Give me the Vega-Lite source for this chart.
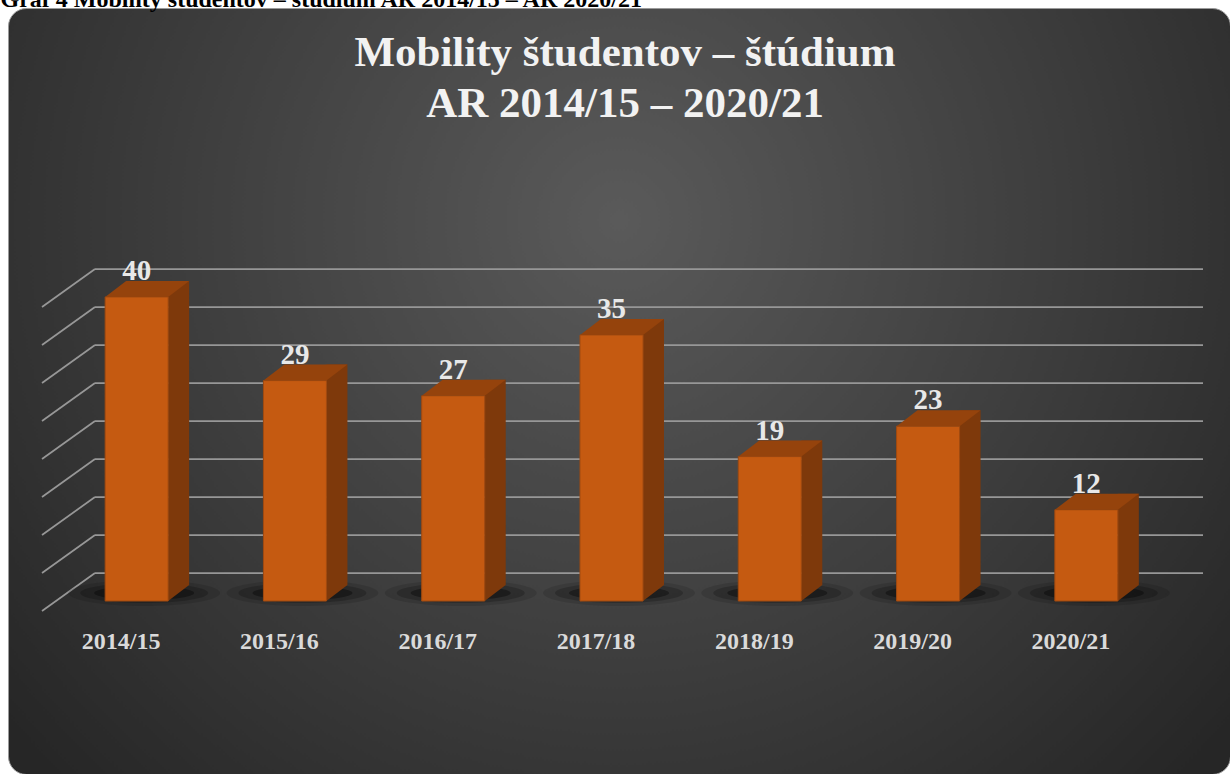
{
  "$schema": "https://vega.github.io/schema/vega-lite/v6.json",
  "width": 1222,
  "height": 766,
  "autosize": {"type": "none"},
  "padding": {"left": 8, "top": 8, "right": 0, "bottom": 0},
  "background": "white",
  "config": {
    "view": {
      "fill": {"gradient": "radial", "x1": 0.5, "y1": 0.36, "r1": 0, "x2": 0.5, "y2": 0.36, "r2": 0.65,
        "stops": [{"offset": 0, "color": "#5a5a5a"}, {"offset": 1, "color": "#262626"}]},
      "stroke": "#9a9a9a",
      "strokeWidth": 1,
      "cornerRadius": 18
    },
    "font": "Liberation Serif"
  },
  "title": {
    "text": ["Mobility študentov – štúdium", "AR 2014/15 – 2020/21"],
    "font": "Liberation Serif",
    "fontSize": 43,
    "fontWeight": "bold",
    "color": "#f2f2f2",
    "lineHeight": 51,
    "anchor": "middle",
    "frame": "group",
    "orient": "top",
    "offset": -173,
    "baseline": "alphabetic",
    "dx": 6
  },
  "datasets": {
    "main": [
      {"cat": "2014/15", "v": 40},
      {"cat": "2015/16", "v": 29},
      {"cat": "2016/17", "v": 27},
      {"cat": "2017/18", "v": 35},
      {"cat": "2018/19", "v": 19},
      {"cat": "2019/20", "v": 23},
      {"cat": "2020/21", "v": 12}
    ],
    "grid": [
      {"g": 0}, {"g": 5}, {"g": 10}, {"g": 15}, {"g": 20}, {"g": 25}, {"g": 30}, {"g": 35}, {"g": 40}
    ]
  },
  "layer": [
    {
      "data": {"name": "grid"},
      "layer": [
        {
          "mark": {"type": "rule", "color": "#979797", "strokeWidth": 1.75},
          "encoding": {
            "y": {"field": "g", "type": "quantitative", "scale": {"domain": [0, 40], "range": [565, 261], "nice": false, "zero": false}, "axis": null},
            "x": {"datum": 0, "type": "quantitative", "scale": {"domain": [0, 1108], "range": [87, 1195], "nice": false, "zero": false},
              "axis": {"orient": "top", "domain": false, "ticks": false, "labels": false, "grid": false,
                "title": "Graf 4 Mobility študentov – štúdium AR 2014/15 – AR 2020/21",
                "titleFont": "Liberation Serif", "titleFontSize": 24, "titleFontWeight": "bold", "titleColor": "black",
                "titleAnchor": "start", "titleAlign": "left", "titleX": -8, "titleY": -2, "titleBaseline": "alphabetic"}},
            "x2": {"datum": 1108}
          }
        },
        {
          "mark": {"type": "rule", "color": "#979797", "strokeWidth": 1.75, "yOffset": 38},
          "encoding": {
            "y": {"field": "g", "type": "quantitative"},
            "y2": {"field": "g"},
            "x": {"datum": -53, "type": "quantitative"},
            "x2": {"datum": 0}
          }
        }
      ]
    },
    {
      "data": {"name": "main"},
      "encoding": {
        "x": {"field": "cat", "type": "nominal", "sort": null,
          "scale": {"range": [87, 1195], "paddingInner": 0, "paddingOuter": 0},
          "axis": {"orient": "bottom", "offset": -133, "domain": false, "ticks": false, "tickSize": 0, "grid": false,
            "labelPadding": 0, "labelBaseline": "middle", "labelAngle": 0, "labelOffset": -53,
            "labelFont": "Liberation Serif", "labelFontSize": 24, "labelFontWeight": "bold", "labelColor": "#dadada", "title": null}}
      },
      "layer": [
        {
          "mark": {"type": "point", "shape": "M -76 0 A 76 13 0 1 0 76 0 A 76 13 0 1 0 -76 0 Z", "size": 4, "filled": true, "fill": "black", "opacity": 0.12, "strokeWidth": 0, "xOffset": -30, "yOffset": 20},
          "encoding": {"y": {"datum": 0, "type": "quantitative"}}
        },
        {
          "mark": {"type": "point", "shape": "M -64 0 A 64 10 0 1 0 64 0 A 64 10 0 1 0 -64 0 Z", "size": 4, "filled": true, "fill": "black", "opacity": 0.2, "strokeWidth": 0, "xOffset": -30, "yOffset": 20},
          "encoding": {"y": {"datum": 0, "type": "quantitative"}}
        },
        {
          "mark": {"type": "point", "shape": "M -50 0 A 50 7 0 1 0 50 0 A 50 7 0 1 0 -50 0 Z", "size": 4, "filled": true, "fill": "black", "opacity": 0.35, "strokeWidth": 0, "xOffset": -30, "yOffset": 20},
          "encoding": {"y": {"datum": 0, "type": "quantitative"}}
        },
        {
          "mark": {"type": "bar", "width": 21, "fill": "#7e390b", "xOffset": 4.5, "yOffset": 12, "y2Offset": 12},
          "encoding": {"y": {"field": "v", "type": "quantitative"}, "y2": {"datum": 0}}
        },
        {
          "mark": {"type": "point", "shape": "M 0 0 L 21 -16 L 0 -16 Z", "size": 4, "filled": true, "fill": "#7e390b", "opacity": 1, "strokeWidth": 0, "xOffset": -6, "yOffset": 28},
          "encoding": {"y": {"datum": 0, "type": "quantitative"}}
        },
        {
          "mark": {"type": "bar", "width": 63, "fill": "#c55a11", "stroke": "#a14a10", "strokeWidth": 1, "xOffset": -37.5, "yOffset": 28, "y2Offset": 28},
          "encoding": {"y": {"field": "v", "type": "quantitative"}, "y2": {"datum": 0}}
        },
        {
          "mark": {"type": "point", "shape": "M -31.5 0 L 31.5 0 L 52.5 -16 L -10.5 -16 Z", "size": 4, "filled": true, "fill": "#95430c", "opacity": 1, "strokeWidth": 0, "xOffset": -37.5, "yOffset": 28},
          "encoding": {"y": {"field": "v", "type": "quantitative"}}
        },
        {
          "mark": {"type": "text", "font": "Liberation Serif", "fontSize": 29, "fontWeight": "bold", "fill": "#e8e8e8", "baseline": "alphabetic", "align": "center", "xOffset": -37.5, "yOffset": 11},
          "encoding": {"y": {"field": "v", "type": "quantitative"}, "text": {"field": "v", "type": "quantitative"}}
        }
      ]
    }
  ],
  "resolve": {"scale": {"x": "independent"}, "axis": {"x": "independent"}}
}
